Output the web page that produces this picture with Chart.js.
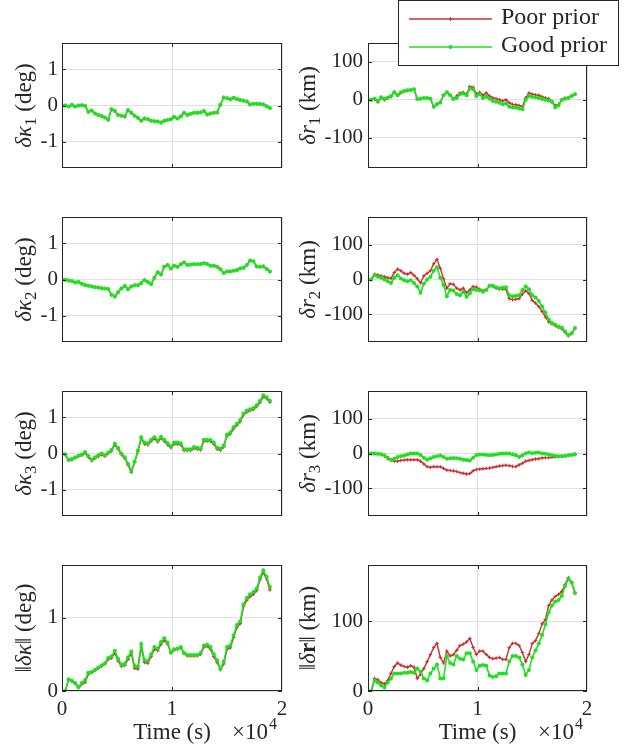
<!DOCTYPE html>
<html>
<head>
<meta charset="utf-8">
<script src="https://cdn.jsdelivr.net/npm/chart.js@4.4.1/dist/chart.umd.min.js"></script>
<style>
  body { margin: 0; background: #fff; }
  #wrap { position: relative; width: 627px; height: 748px; overflow: hidden; }
  canvas { position: absolute; }
</style>
</head>
<body>
<div id="wrap"></div>
<script>
// time stamps (s)
const time = [0, 300, 600, 900, 1200, 1500, 1800, 2100,
  2400, 2700, 3000, 3300, 3600, 3900, 4200, 4500,
  4800, 5100, 5400, 5700, 6000, 6300, 6600, 6900,
  7200, 7500, 7800, 8100, 8400, 8700, 9000, 9300,
  9600, 9900, 10200, 10500, 10800, 11100, 11400, 11700,
  12000, 12300, 12600, 12900, 13200, 13500, 13800, 14100,
  14400, 14700, 15000, 15300, 15600, 15900, 16200, 16500,
  16800, 17100, 17400, 17700, 18000, 18300, 18600, 18900];

// attitude errors (deg), both priors overlap on the first two
const kappa1 = [0, 0, -0.03, 0.02, -0.03, 0, 0.01, -0.01,
  -0.17, -0.14, -0.22, -0.26, -0.29, -0.33, -0.39, -0.1,
  -0.15, -0.26, -0.28, -0.3, -0.13, -0.2, -0.28, -0.34,
  -0.42, -0.36, -0.38, -0.42, -0.43, -0.44, -0.47, -0.42,
  -0.4, -0.38, -0.31, -0.36, -0.3, -0.2, -0.26, -0.23,
  -0.2, -0.2, -0.19, -0.15, -0.25, -0.22, -0.2, -0.19,
  0.02, 0.22, 0.2, 0.17, 0.21, 0.18, 0.15, 0.13,
  0.11, 0.03, 0.05, 0.05, 0.04, 0.03, -0.02, -0.07];
const kappa2 = [0, -0.01, -0.03, -0.04, -0.08, -0.07, -0.12, -0.15,
  -0.17, -0.19, -0.21, -0.22, -0.24, -0.25, -0.26, -0.42,
  -0.47, -0.35, -0.25, -0.18, -0.27, -0.19, -0.16, -0.16,
  -0.1, -0.02, -0.07, -0.13, 0.05, 0.2, 0.14, 0.35,
  0.4, 0.3, 0.38, 0.35, 0.42, 0.47, 0.4, 0.41,
  0.42, 0.42, 0.43, 0.45, 0.43, 0.38, 0.38, 0.35,
  0.28, 0.18, 0.22, 0.22, 0.24, 0.26, 0.3, 0.32,
  0.4, 0.52, 0.5, 0.36, 0.35, 0.36, 0.29, 0.22];
const kappa3Good = [0, -0.02, -0.17, -0.15, -0.1, -0.06, -0.03, 0.04,
  -0.07, -0.17, -0.1, -0.05, 0, -0.05, 0.03, 0.1,
  0.27, 0.15, 0, -0.1, -0.28, -0.48, -0.22, 0.08,
  0.45, 0.3, 0.28, 0.38, 0.45, 0.36, 0.46, 0.38,
  0.28, 0.2, 0.3, 0.3, 0.28, 0.12, 0.12, 0.12,
  0.18, 0.16, 0.14, 0.38, 0.38, 0.37, 0.3, 0.16,
  0.13, 0.22, 0.52, 0.58, 0.72, 0.82, 0.92, 1.1,
  1.18, 1.22, 1.25, 1.33, 1.45, 1.6, 1.55, 1.45];
const kappa3Poor = [0, -0.03, -0.19, -0.17, -0.12, -0.08, -0.05, 0.01,
  -0.1, -0.2, -0.13, -0.08, -0.03, -0.08, 0, 0.07,
  0.24, 0.12, -0.03, -0.13, -0.31, -0.52, -0.25, 0.05,
  0.42, 0.26, 0.24, 0.34, 0.41, 0.32, 0.42, 0.34,
  0.24, 0.16, 0.26, 0.26, 0.24, 0.08, 0.08, 0.08,
  0.14, 0.12, 0.1, 0.34, 0.34, 0.33, 0.26, 0.12,
  0.09, 0.18, 0.48, 0.54, 0.68, 0.78, 0.88, 1.06,
  1.14, 1.18, 1.21, 1.29, 1.41, 1.56, 1.51, 1.41];
const normKappaGood = [0, 0, 0.16, 0.14, 0.11, 0.05, 0.11, 0.15,
  0.25, 0.26, 0.29, 0.32, 0.35, 0.38, 0.45, 0.47,
  0.55, 0.44, 0.36, 0.37, 0.46, 0.54, 0.34, 0.33,
  0.64, 0.42, 0.41, 0.5, 0.6, 0.58, 0.67, 0.72,
  0.66, 0.53, 0.57, 0.58, 0.6, 0.52, 0.49, 0.49,
  0.49, 0.49, 0.52, 0.62, 0.63, 0.6, 0.5, 0.42,
  0.3, 0.4, 0.6, 0.62, 0.76, 0.9, 0.95, 1.18,
  1.27, 1.32, 1.35, 1.4, 1.55, 1.65, 1.56, 1.42];
const normKappaPoor = [0, 0, 0.15, 0.13, 0.1, 0.05, 0.09, 0.12,
  0.23, 0.25, 0.28, 0.31, 0.34, 0.37, 0.43, 0.45,
  0.52, 0.41, 0.34, 0.35, 0.43, 0.51, 0.31, 0.3,
  0.6, 0.39, 0.38, 0.47, 0.57, 0.55, 0.64, 0.69,
  0.64, 0.52, 0.56, 0.57, 0.59, 0.51, 0.48, 0.48,
  0.48, 0.48, 0.5, 0.6, 0.61, 0.57, 0.47, 0.39,
  0.29, 0.37, 0.57, 0.59, 0.73, 0.87, 0.92, 1.15,
  1.24, 1.29, 1.32, 1.37, 1.52, 1.62, 1.53, 1.38];

// position errors (km)
const r1Good = [0, 0, 3, -3, 7, 3, 6, 10,
  20, 12, 20, 23, 25, 26, 28, 2,
  3, 5, 5, 3, -18, -12, -7, 12,
  20, 12, 2, 5, 15, 17, 12, 30,
  28, 10, 15, 5, 8, 3, -3, -5,
  -8, -12, -10, -18, -20, -20, -23, -25,
  0, 10, 8, 7, 5, 2, 0, -2,
  -5, -20, -15, 0, 3, 5, 10, 15];
const r1Poor = [0, 0, 2, -6, 5, 0, 5, 8,
  20, 12, 18, 22, 24, 25, 28, 2,
  3, 5, 5, 3, -18, -12, -7, 12,
  20, 13, 3, 10, 18, 20, 15, 35,
  33, 15, 20, 12, 18, 10, 5, 3,
  0, -3, 0, -8, -12, -13, -15, -18,
  5, 18, 15, 13, 12, 8, 5, 3,
  -5, -15, -12, 0, 5, 6, 10, 15];
const r2Good = [0, 0, 12, 8, 5, 0, -5, -10,
  5, 12, 3, -2, -5, -2, -10, -20,
  -38, -12, 0, 8, 25, 35, 5, -15,
  -48, -30, -32, -42, -45, -35, -50, -40,
  -28, -30, -32, -35, -30, -18, -18, -22,
  -25, -24, -22, -45, -48, -47, -45, -30,
  -20, -28, -45, -52, -62, -78, -95, -115,
  -125, -130, -135, -138, -150, -160, -155, -140];
const r2Poor = [0, 0, 15, 13, 10, 8, 5, 3,
  20, 30, 25, 18, 15, 20, 12, 2,
  -10, 10, 18, 25, 45, 58, 32, 2,
  -25, -12, -14, -25, -30, -25, -38, -30,
  -20, -22, -28, -32, -30, -18, -20, -25,
  -28, -28, -28, -55, -58, -57, -55, -42,
  -32, -40, -60, -68, -78, -92, -108, -122,
  -128, -133, -138, -142, -152, -162, -156, -141];
const r3Good = [0, 0, 0, -1, -2, -5, -12, -18,
  -15, -10, -8, -6, -3, 0, 0, 0,
  -4, -12, -18, -14, -10, -8, -6, -10,
  -15, -14, -13, -14, -15, -18, -19, -20,
  -12, -4, -3, -3, -4, -5, -4, -3,
  -1, 0, 0, 0, -2, -5, -10, -5,
  0, 3, 1, 2, 3, 0, -1, -3,
  -5, -7, -8, -8, -7, -5, -4, -2];
const r3Poor = [0, 0, 0, -1, -3, -7, -15, -20,
  -22, -22, -20, -19, -18, -18, -18, -18,
  -22, -30, -38, -40, -38, -38, -38, -43,
  -48, -49, -50, -52, -55, -57, -59, -58,
  -50, -46, -45, -44, -43, -42, -40, -38,
  -36, -35, -34, -35, -37, -38, -33, -28,
  -22, -20, -18, -16, -15, -13, -12, -12,
  -11, -10, -9, -8, -7, -5, -4, -2];
const normRGood = [0, 0, 15, 12, 8, 5, 12, 18,
  25, 25, 25, 26, 26, 27, 26, 32,
  28, 18, 15, 25, 32, 38, 18, 18,
  50, 40, 38, 50, 46, 45, 54, 54,
  42, 30, 36, 37, 36, 22, 20, 21,
  25, 25, 25, 42, 50, 50, 48, 38,
  23, 30, 48, 58, 68, 80, 95, 112,
  122, 128, 130, 136, 150, 160, 155, 140];
const normRPoor = [0, 0, 18, 16, 12, 10, 15, 25,
  35, 40, 37, 35, 34, 36, 34, 18,
  24, 32, 42, 52, 62, 68, 48, 40,
  57, 50, 52, 58, 65, 67, 70, 75,
  62, 52, 57, 57, 52, 48, 46, 47,
  48, 45, 45, 62, 68, 68, 65, 55,
  42, 52, 68, 72, 82, 96, 102, 122,
  130, 135, 138, 142, 152, 162, 155, 140];

// ticks
const xTicks = [0, 10000, 20000];
const xTickLabels = ['0', '1', '2'];
const kappaTicks = [-1, 0, 1];
const kappaTickLabels = ['-1', '0', '1'];
const normKappaTicks = [0, 1];
const normKappaTickLabels = ['0', '1'];
const rTicks = [-100, 0, 100];
const rTickLabels = ['-100', '0', '100'];
const normRTicks = [0, 100];
const normRTickLabels = ['0', '100'];

const seriesNames = ['Poor prior', 'Good prior'];

const RED = '#c93030', GREEN = '#1fe01f', INK = '#262626', GRID = '#dfdfdf';
const SERIF = '"Liberation Serif", "DejaVu Serif", serif';

const panels = [
  { poor: kappa1, good: kappa1, range: [-1.72, 1.72], ticks: kappaTicks, tickLabels: kappaTickLabels,
    label: [['δκ', 'i'], ['1', 's'], [' (deg)', 'n']] },
  { poor: r1Poor, good: r1Good, range: [-180, 150], ticks: rTicks, tickLabels: rTickLabels,
    label: [['δr', 'i'], ['1', 's'], [' (km)', 'n']], legend: true },
  { poor: kappa2, good: kappa2, range: [-1.72, 1.72], ticks: kappaTicks, tickLabels: kappaTickLabels,
    label: [['δκ', 'i'], ['2', 's'], [' (deg)', 'n']] },
  { poor: r2Poor, good: r2Good, range: [-180, 180], ticks: rTicks, tickLabels: rTickLabels,
    label: [['δr', 'i'], ['2', 's'], [' (km)', 'n']] },
  { poor: kappa3Poor, good: kappa3Good, range: [-1.72, 1.72], ticks: kappaTicks, tickLabels: kappaTickLabels,
    label: [['δκ', 'i'], ['3', 's'], [' (deg)', 'n']] },
  { poor: r3Poor, good: r3Good, range: [-180, 180], ticks: rTicks, tickLabels: rTickLabels,
    label: [['δr', 'i'], ['3', 's'], [' (km)', 'n']] },
  { poor: normKappaPoor, good: normKappaGood, range: [0, 1.72], ticks: normKappaTicks, tickLabels: normKappaTickLabels,
    label: [['‖', 'n'], ['δκ', 'i'], ['‖ (deg)', 'n']] },
  { poor: normRPoor, good: normRGood, range: [0, 180], ticks: normRTicks, tickLabels: normRTickLabels,
    label: [['‖', 'n'], ['δ', 'i'], ['r', 'b'], ['‖ (km)', 'n']] }
];

// page layout
const bandTop = [0, 190, 365, 540], bandBot = [190, 365, 540, 748];
const rowTop = [43, 217, 391, 565], rowBot = [168, 342, 516, 691];
const colLeft = [0, 290], colWidth = [300, 337], yAxisW = [62, 78], padRight = [18, 40];
const yLabelX = [23, 17];
const TICK_FONT = 21, LABEL_FONT = 23;

function fontOf(style, size) {
  if (style === 'i') return 'italic ' + size + 'px ' + SERIF;
  if (style === 'b') return 'bold ' + size + 'px ' + SERIF;
  if (style === 's') return Math.round(size * 0.72) + 'px ' + SERIF;
  return size + 'px ' + SERIF;
}

function drawRich(ctx, parts, x, y, size) {
  let w = 0;
  parts.forEach(p => { ctx.font = fontOf(p[1], size); w += ctx.measureText(p[0]).width; });
  let cx = x - w / 2;
  parts.forEach(p => {
    ctx.font = fontOf(p[1], size);
    const dy = p[1] === 's' ? size * 0.25 : 0;
    ctx.fillText(p[0], cx, y + dy);
    cx += ctx.measureText(p[0]).width;
  });
}

function marker(ctx, style, x, y) {
  if (style === 'cross') {
    ctx.beginPath();
    ctx.moveTo(x - 2, y); ctx.lineTo(x + 2, y);
    ctx.moveTo(x, y - 2); ctx.lineTo(x, y + 2);
    ctx.stroke();
  } else {
    ctx.beginPath();
    ctx.arc(x, y, 2, 0, Math.PI * 2);
    ctx.fill();
  }
}

const decor = {
  id: 'decor',
  afterDraw(chart, args, o) {
    const p = o.panel;
    const ctx = chart.ctx, a = chart.chartArea;
    const xs = chart.scales.x, ys = chart.scales.y;
    ctx.save();
    ctx.strokeStyle = INK;
    ctx.lineWidth = 1;
    ctx.beginPath();
    xTicks.forEach(v => {
      if (v <= xs.min || v >= xs.max) return;
      const px = Math.round(xs.getPixelForValue(v)) + 0.5;
      ctx.moveTo(px, a.bottom); ctx.lineTo(px, a.bottom - 4);
      ctx.moveTo(px, a.top); ctx.lineTo(px, a.top + 4);
    });
    p.ticks.forEach(v => {
      const py = Math.round(ys.getPixelForValue(v)) + 0.5;
      ctx.moveTo(a.left, py); ctx.lineTo(a.left + 4, py);
      ctx.moveTo(a.right, py); ctx.lineTo(a.right - 4, py);
    });
    ctx.stroke();
    ctx.strokeRect(a.left + 0.5, a.top + 0.5, a.right - a.left - 1, a.bottom - a.top - 1);

    // y label
    ctx.fillStyle = INK;
    ctx.textBaseline = 'alphabetic';
    ctx.save();
    ctx.translate(yLabelX[p.col], (a.top + a.bottom) / 2);
    ctx.rotate(-Math.PI / 2);
    drawRich(ctx, p.label, 0, LABEL_FONT * 0.33, LABEL_FONT);
    ctx.restore();

    // x label on the bottom row
    if (p.row === 3) {
      const base = 739 - bandTop[3];
      ctx.font = fontOf('n', LABEL_FONT);
      ctx.textAlign = 'center';
      ctx.fillText('Time (s)', (a.left + a.right) / 2, base);
      ctx.textAlign = 'left';
      const x0 = a.left + 170;
      ctx.fillText('×10', x0, base);
      const w = ctx.measureText('×10').width;
      ctx.font = fontOf('n', 16);
      ctx.fillText('4', x0 + w + 1, base - 10);
    }

    // legend
    if (p.legend) {
      const lx = 398 - colLeft[1], lw = 221, lh = 66;
      ctx.fillStyle = '#fff';
      ctx.fillRect(lx, 0, lw, lh);
      ctx.strokeStyle = INK;
      ctx.strokeRect(lx + 0.5, 0.5, lw - 1, lh - 1);
      const rows = [[19, RED, 'cross'], [47, GREEN, 'circle']];
      rows.forEach((r, i) => {
        ctx.strokeStyle = r[1];
        ctx.fillStyle = r[1];
        ctx.lineWidth = 1.5;
        ctx.beginPath();
        ctx.moveTo(lx + 11, r[0]); ctx.lineTo(lx + 94, r[0]);
        ctx.stroke();
        ctx.lineWidth = 1;
        marker(ctx, r[2], lx + 52.5, r[0]);
        ctx.fillStyle = INK;
        ctx.font = fontOf('n', 24);
        ctx.textAlign = 'left';
        ctx.textBaseline = 'middle';
        ctx.fillText(seriesNames[i], lx + 103, r[0] - 1);
      });
    }
    ctx.restore();
  }
};

const wrap = document.getElementById('wrap');

panels.forEach((p, idx) => {
  p.row = idx >> 1;
  p.col = idx & 1;
  const cv = document.createElement('canvas');
  const W = colWidth[p.col], H = bandBot[p.row] - bandTop[p.row];
  cv.width = W; cv.height = H;
  cv.style.left = colLeft[p.col] + 'px';
  cv.style.top = bandTop[p.row] + 'px';
  wrap.appendChild(cv);

  const xH = bandBot[p.row] - rowBot[p.row];
  const yW = yAxisW[p.col];

  new Chart(cv.getContext('2d'), {
    type: 'line',
    data: {
      labels: time,
      datasets: [
        { label: seriesNames[0], data: p.poor, borderColor: RED, backgroundColor: RED, borderWidth: 1.4,
          pointStyle: 'cross', pointRadius: 1.8, pointBorderWidth: 1, pointBorderColor: RED, order: 1 },
        { label: seriesNames[1], data: p.good, borderColor: GREEN, backgroundColor: GREEN, borderWidth: 1.6,
          pointStyle: 'circle', pointRadius: 2, pointBorderWidth: 0, pointBackgroundColor: GREEN, order: 0 }
      ]
    },
    options: {
      responsive: false,
      animation: false,
      devicePixelRatio: 1,
      events: [],
      layout: { padding: { left: 0, right: padRight[p.col], top: rowTop[p.row] - bandTop[p.row], bottom: 0 } },
      elements: { line: { tension: 0 }, point: { hoverRadius: 0 } },
      plugins: { legend: { display: false }, tooltip: { enabled: false }, decor: { panel: p } },
      scales: {
        x: {
          type: 'linear',
          min: 0, max: 20000,
          afterBuildTicks: s => { s.ticks = xTicks.map(v => ({ value: v })); },
          afterFit: s => { s.height = xH; },
          grid: { color: GRID, lineWidth: 1, drawTicks: false },
          border: { display: false },
          ticks: {
            display: p.row === 3,
            padding: 6,
            color: INK,
            font: { family: SERIF, size: TICK_FONT },
            maxRotation: 0,
            callback: v => xTickLabels[xTicks.indexOf(v)]
          }
        },
        y: {
          min: p.range[0], max: p.range[1],
          afterBuildTicks: s => { s.ticks = p.ticks.map(v => ({ value: v })); },
          afterFit: s => { s.width = yW; },
          grid: { color: GRID, lineWidth: 1, drawTicks: false },
          border: { display: false },
          ticks: {
            padding: p.col === 0 ? 4 : 5,
            color: INK,
            font: { family: SERIF, size: TICK_FONT },
            callback: v => p.tickLabels[p.ticks.indexOf(v)]
          }
        }
      }
    },
    plugins: [decor]
  });
});
</script>
</body>
</html>
